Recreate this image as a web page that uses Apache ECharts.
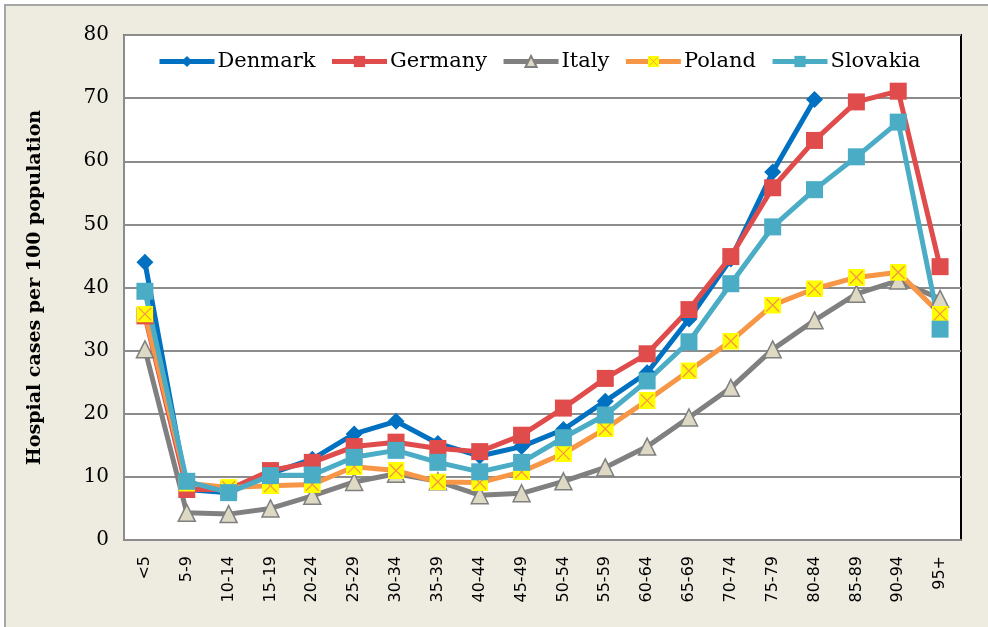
<!DOCTYPE html>
<html lang="en">
<head>
    <meta charset="UTF-8">
    <title>Hospital cases per 100 population by age</title>
    <script src="https://cdn.jsdelivr.net/npm/echarts@6.0.0/dist/echarts.min.js"></script>
    <style>
        html, body {
            margin: 0;
            padding: 0;
            background: #ffffff;
            overflow: hidden;
        }
        #chart {
            position: absolute;
            left: 4px;
            top: 4px;
            width: 984px;
            height: 623px;
            border-left: 2px solid #a6a6a6;
            border-top: 2px solid #a6a6a6;
            background: #eeece1;
        }
    </style>
</head>
<body>
    <div id="chart"></div>

    <script>
        // age groups
        const ageGroups = ['<5', '5-9', '10-14', '15-19', '20-24', '25-29', '30-34', '35-39', '40-44', '45-49',
                           '50-54', '55-59', '60-64', '65-69', '70-74', '75-79', '80-84', '85-89', '90-94', '95+'];
        const yTicks = [0, 10, 20, 30, 40, 50, 60, 70, 80];

        // hospital cases per 100 population
        const denmark  = [44.0, 8.0, 7.5, 10.5, 12.8, 16.8, 18.8, 15.3, 13.3, 14.8, 17.5, 22.0, 26.5, 35.0, 44.5, 58.3, 69.8, null, null, null];
        const germany  = [35.5, 8.0, 8.0, 11.0, 12.3, 14.8, 15.5, 14.5, 14.0, 16.6, 20.9, 25.6, 29.5, 36.5, 44.9, 55.8, 63.3, 69.4, 71.1, 43.3];
        const italy    = [30.2, 4.3, 4.1, 5.0, 7.0, 9.2, 10.5, 9.3, 7.1, 7.4, 9.3, 11.5, 14.8, 19.4, 24.1, 30.2, 34.8, 39.0, 41.1, 38.2];
        const poland   = [35.8, 9.0, 8.3, 8.6, 8.8, 11.6, 11.0, 9.2, 9.1, 10.8, 13.7, 17.6, 22.1, 26.8, 31.5, 37.2, 39.8, 41.6, 42.4, 35.8];
        const slovakia = [39.4, 9.3, 7.5, 10.2, 10.3, 13.1, 14.2, 12.3, 10.8, 12.3, 16.2, 19.8, 25.2, 31.4, 40.6, 49.6, 55.5, 60.7, 66.2, 33.4];

        const serif = '"DejaVu Serif", "Liberation Serif", serif';

        // yellow square with an orange cross (Poland marker)
        const polandSymbol = 'image://data:image/svg+xml;utf8,' + encodeURIComponent(
            "<svg xmlns='http://www.w3.org/2000/svg' width='40' height='40'>" +
            "<rect width='40' height='40' fill='#ffff00'/>" +
            "<path d='M5 5L35 35M35 5L5 35' stroke='#f79646' stroke-width='3'/></svg>");

        const chart = echarts.init(document.getElementById('chart'));

        function lineSeries(name, data, color, symbol, size, extra) {
            return Object.assign({
                name: name,
                type: 'line',
                data: data,
                symbol: symbol,
                symbolSize: size,
                connectNulls: false,
                lineStyle: { width: 5, color: color },
                itemStyle: { color: color, opacity: 1 },
                emphasis: { disabled: true }
            }, extra || {});
        }

        const option = {
            animation: false,
            grid: {
                left: 118,
                top: 29,
                right: 29,
                bottom: 89,
                show: true,
                backgroundColor: '#ffffff',
                borderColor: '#000000',
                borderWidth: 2
            },
            legend: {
                left: 146,
                top: 40,
                itemWidth: 55,
                itemHeight: 14,
                itemGap: 14,
                textStyle: { fontFamily: serif, fontSize: 21, color: '#000', padding: [0, 0, 0, -2] },
                lineStyle: { width: 5 },
                data: ['Denmark', 'Germany', 'Italy', 'Poland', 'Slovakia']
            },
            xAxis: {
                type: 'category',
                data: ageGroups,
                boundaryGap: true,
                axisLine: { lineStyle: { color: '#8c8c8c', width: 2 } },
                axisTick: { show: false },
                axisLabel: {
                    rotate: 90,
                    margin: 16,
                    interval: 0,
                    fontFamily: '"DejaVu Sans", sans-serif',
                    fontSize: 16,
                    color: '#000'
                }
            },
            yAxis: {
                type: 'value',
                min: yTicks[0],
                max: yTicks[yTicks.length - 1],
                interval: 10,
                name: 'Hospial cases per 100 population',
                nameLocation: 'middle',
                nameGap: 79,
                nameTextStyle: { fontFamily: serif, fontSize: 19, fontWeight: 'bold', color: '#000' },
                axisLine: { show: true, lineStyle: { color: '#8c8c8c', width: 2 } },
                axisTick: { show: false },
                axisLabel: { fontFamily: serif, fontSize: 20, color: '#000', margin: 15 },
                splitLine: { lineStyle: { color: '#8c8c8c', width: 2 } }
            },
            series: [
                lineSeries('Denmark', denmark, '#0070c0', 'diamond', 17),
                lineSeries('Germany', germany, '#e04b4b', 'rect', 17),
                lineSeries('Italy', italy, '#808080', 'triangle', 17, {
                    itemStyle: { color: '#ddd9c4', borderColor: '#7f7f7f', borderWidth: 1.5 }
                }),
                lineSeries('Poland', poland, '#f79646', polandSymbol, 17),
                lineSeries('Slovakia', slovakia, '#4bacc6', 'rect', 17)
            ]
        };

        chart.setOption(option);
    </script>
</body>
</html>
